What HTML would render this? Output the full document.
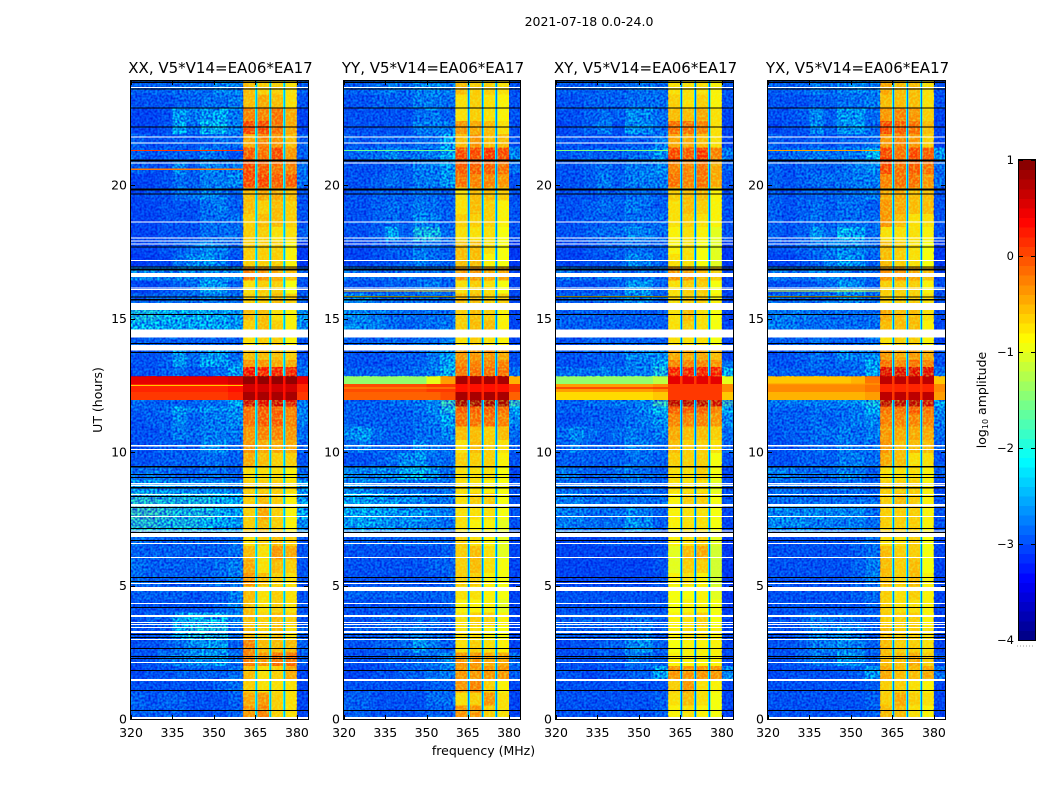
<!DOCTYPE html>
<html lang="en">
<head>
<meta charset="utf-8">
<title>2021-07-18 amplitude spectrograms</title>
<style>
html,body{margin:0;padding:0;background:#fff;width:1050px;height:800px;overflow:hidden}
svg{display:block}
text{font-family:"DejaVu Sans","Liberation Sans",sans-serif;fill:#000}
</style>
</head>
<body>
<svg id="chart" xmlns="http://www.w3.org/2000/svg" width="1050" height="800" viewBox="0 0 1050 800">
<defs>
<filter id="speckle-blue" x="0" y="0" width="1" height="1" color-interpolation-filters="sRGB">
<feTurbulence type="fractalNoise" baseFrequency="0.45" numOctaves="1" seed="4"/>
<feColorMatrix type="matrix" values="0 0 0 0 0  0 0 0 0 0.08  0 0 0 0 0.86  2 0 0 0 -0.62"/>
</filter>
<filter id="speckle-yellow" x="0" y="0" width="1" height="1" color-interpolation-filters="sRGB">
<feTurbulence type="fractalNoise" baseFrequency="0.45" numOctaves="1" seed="9"/>
<feColorMatrix type="matrix" values="0 0 0 0 0.85  0 0 0 0 1  0 0 0 0 0.24  1.5 0 0 0 -0.6"/>
</filter>
</defs>
<rect width="1050" height="800" fill="#fff"/>
<text x="589" y="26" font-size="12.5" text-anchor="middle">2021-07-18 0.0-24.0</text>
<text x="483.5" y="755" font-size="12.5" text-anchor="middle">frequency (MHz)</text>
<text transform="translate(102,400) rotate(-90)" font-size="12.5" text-anchor="middle">UT (hours)</text>
<text transform="translate(986,400) rotate(-90)" font-size="12.5" text-anchor="middle">log<tspan font-size="8" dy="2">10</tspan><tspan dy="-2"> amplitude</tspan></text>
<g id="plots"></g>
<g id="cbar"></g>
</svg>
<script>
// Chart data. Log10 amplitudes are stored in tenths, hours in UT, frequencies in MHz.
const panelTitles = ["XX, V5*V14=EA06*EA17","YY, V5*V14=EA06*EA17","XY, V5*V14=EA06*EA17","YX, V5*V14=EA06*EA17"];
const freqTicks = [320,335,350,365,380];
const hourTicks = [0,5,10,15,20];
const colorTicks = [-4,-3,-2,-1,0,1];
const rowEdges = [24,23.5,23,22.5,22,21.5,21,20.5,20,19.5,19,18.5,18,17.5,17,16.5,16,15.5,15,14.5,14,13.5,13.25,12.9,12.6,12.3,12,11.75,11.5,11,10.5,10,9.5,9,8.5,8,7.5,7,6.5,6,5.5,5,4.5,4,3.5,3,2.5,2,1.5,1,0.5,0];
const colStarts = [320,325,330,335,340,345,350,355,360.5,365.6,370.6,375.7,380];
const colEnds = [325,330,335,340,345,350,355,360.5,365.1,370.2,375.2,380,384];
const lineCenters = [365.35,370.4,375.45];
const lineHalo = [-20,-22,-22,-20];
const lineCore = [-25,-28,-29,-28];
const lineHot = [3,2,1,1];
const hotBandTop = 12.9;
const hotBandBottom = 12;
const whiteStart = [23.78,21.92,21.69,20.94,18.72,18.12,18,17.89,17.26,16.77,16.24,16.17,15.64,14.66,14.06,10.3,10.15,8.87,8.8,8.46,8.08,7.63,7.1,6.99,6.62,6.09,5.11,4.96,4.36,3.91,3.65,3.57,3.46,3.31,3.01,2.14,1.5,0.08];
const whiteEnd = [23.74,21.88,21.65,20.9,18.68,18.08,17.97,17.86,17.22,16.62,16.2,16.13,15.38,14.36,13.87,10.26,10.11,8.83,8.76,8.42,8,7.59,7.07,6.84,6.58,6.05,5.08,4.81,4.32,3.83,3.61,3.53,3.42,3.23,2.97,2.1,1.43,0];
const blackStart = [23.98,23.72,23,22.29,21.05,19.96,19.77,17.78,17.03,16.95,15.9,15.79,15.23,14.14,13.8,9.51,9.21,9.1,8.72,8.38,7.97,7.18,7.03,6.73,5.34,5.19,4.21,3.2,3.08,2.67,2.37,2.29,1.84,1.09,0.34];
const blackEnd = [23.93,23.68,22.97,22.26,20.98,19.89,19.74,17.74,16.99,16.88,15.86,15.75,15.19,14.1,13.76,9.47,9.17,9.06,8.68,8.35,7.93,7.14,6.99,6.69,5.3,5.15,4.17,3.16,3.04,2.63,2.33,2.26,1.8,1.05,0.3];
const spikeHours = [[21.39,20.68,12.55],[21.39,16.1,15.9,12.45],[21.39,15.9,12.45],[21.39,16.1,15.9,12.6]];
const spikeValues = [[1,-2,-6],[-16,-6,-8,-4],[-15,-7,4],[-4,-10,-6,-4]];

const xxValues = [
[-27,-27,-27,-26,-26,-26,-24,-25,-5,-6,-6,-7,-27],
[-28,-28,-28,-27,-27,-26,-26,-25,-5,-4,-5,-7,-28],
[-29,-29,-28,-23,-25,-23,-22,-25,-2,-2,-1,-4,-29],
[-29,-29,-28,-22,-26,-21,-21,-25,1,1,-1,-4,-29],
[-27,-28,-28,-27,-28,-27,-26,-26,-4,-2,-3,-5,-27],
[-27,-28,-27,-27,-27,-25,-26,-28,0,-1,1,-3,-27],
[-27,-28,-28,-24,-27,-24,-25,-25,1,0,-1,-2,-26],
[-29,-29,-28,-26,-27,-25,-25,-24,1,1,0,0,-26],
[-29,-28,-28,-26,-26,-24,-25,-27,-5,-4,-4,-5,-28],
[-29,-29,-28,-28,-28,-26,-25,-27,-5,-6,-5,-6,-28],
[-29,-29,-28,-28,-28,-26,-26,-26,-6,-5,-5,-6,-28],
[-29,-29,-28,-28,-28,-26,-26,-26,-6,-6,-7,-7,-27],
[-29,-29,-28,-27,-26,-24,-25,-27,-6,-6,-6,-8,-30],
[-30,-29,-29,-26,-24,-23,-25,-28,-6,-6,-6,-8,-30],
[-24,-24,-24,-24,-24,-24,-24,-24,-2,-3,-4,-5,-27],
[-29,-29,-28,-27,-26,-22,-23,-27,-7,-6,-6,-9,-28],
[-27,-27,-26,-26,-26,-25,-25,-26,-6,-6,-5,-6,-27],
[-20,-20,-21,-21,-21,-21,-22,-23,-5,-5,-7,-8,-23],
[-21,-21,-22,-22,-22,-22,-22,-23,-6,-5,-6,-8,-24],
[-27,-27,-27,-27,-27,-27,-27,-27,-7,-6,-6,-8,-28],
[-28,-28,-27,-23,-26,-23,-23,-26,-5,-5,-5,-6,-28],
[-28,-28,-27,-23,-26,-22,-23,-24,-3,-3,-4,-4,-27],
[-28,-28,-27,-26,-28,-27,-26,-22,4,3,3,3,-26],
[5,5,5,5,5,5,5,6,9,9,9,9,5],
[2,2,2,2,2,2,2,3,6,6,6,6,2],
[1,1,1,1,1,1,1,2,8,8,8,8,1],
[-26,-27,-27,-27,-27,-25,-26,-22,6,5,6,5,-25],
[-27,-27,-26,-22,-25,-24,-24,-23,-1,0,0,-2,-25],
[-28,-27,-27,-24,-27,-25,-25,-24,-1,0,0,-2,-25],
[-28,-28,-27,-25,-26,-25,-25,-25,-3,-2,-2,-3,-26],
[-28,-28,-27,-27,-27,-24,-24,-26,-3,-4,-4,-4,-27],
[-28,-28,-27,-27,-27,-26,-26,-27,-4,-5,-6,-6,-28],
[-26,-25,-26,-27,-27,-26,-26,-27,-7,-7,-7,-8,-26],
[-23,-23,-23,-24,-24,-24,-24,-25,-6,-6,-6,-7,-23],
[-19,-19,-20,-20,-20,-20,-21,-22,-6,-5,-6,-8,-23],
[-18,-18,-19,-20,-20,-20,-21,-22,-6,-4,-6,-8,-22],
[-19,-19,-20,-20,-20,-21,-22,-23,-6,-5,-6,-8,-24],
[-26,-27,-27,-27,-27,-27,-27,-26,-7,-6,-5,-6,-28],
[-27,-27,-27,-27,-27,-27,-27,-26,-5,-7,-3,-4,-28],
[-26,-27,-27,-27,-27,-27,-26,-25,-4,-7,-5,-6,-28],
[-26,-27,-27,-27,-27,-27,-26,-25,-3,-5,-6,-7,-28],
[-27,-27,-27,-27,-28,-27,-27,-25,-5,-7,-6,-7,-28],
[-28,-28,-28,-28,-28,-28,-27,-25,-5,-7,-6,-7,-28],
[-28,-27,-27,-22,-21,-21,-21,-25,-5,-6,-5,-6,-28],
[-28,-28,-27,-22,-20,-20,-20,-26,-5,-6,-5,-7,-27],
[-28,-28,-27,-26,-24,-23,-23,-27,-2,-5,-5,-5,-27],
[-28,-28,-26,-25,-24,-23,-23,-26,-2,-3,-1,-1,-27],
[-29,-28,-28,-27,-27,-27,-27,-26,-5,-7,-6,-4,-29],
[-28,-28,-28,-28,-28,-28,-27,-26,-6,-7,-7,-7,-29],
[-27,-28,-27,-27,-28,-28,-28,-27,-4,-3,-6,-7,-29],
[-27,-27,-27,-27,-28,-28,-28,-27,-3,-2,-6,-7,-29]
];
const yyValues = [
[-27,-27,-26,-25,-26,-24,-24,-25,-5,-6,-6,-7,-28],
[-28,-28,-27,-27,-27,-25,-25,-26,-7,-6,-7,-8,-28],
[-28,-28,-28,-28,-28,-26,-25,-27,-7,-6,-7,-8,-28],
[-28,-28,-28,-28,-28,-25,-25,-25,-3,-4,-5,-7,-28],
[-27,-28,-27,-27,-27,-26,-26,-22,-5,-3,-5,-5,-28],
[-27,-26,-26,-24,-26,-25,-25,-22,1,1,2,1,-24],
[-28,-28,-28,-27,-27,-25,-25,-23,0,0,0,-1,-26],
[-28,-28,-27,-26,-27,-25,-25,-23,-1,-2,-2,-3,-28],
[-28,-28,-27,-27,-27,-26,-26,-27,-7,-5,-5,-6,-28],
[-28,-28,-27,-26,-27,-25,-26,-27,-7,-5,-6,-8,-28],
[-28,-28,-27,-26,-27,-24,-25,-27,-6,-6,-6,-8,-28],
[-28,-28,-27,-22,-27,-20,-20,-26,-7,-7,-7,-9,-28],
[-29,-29,-28,-27,-27,-25,-26,-27,-5,-5,-7,-9,-30],
[-29,-29,-28,-28,-27,-25,-26,-27,-5,-5,-8,-9,-30],
[-26,-26,-26,-26,-26,-26,-26,-26,-3,-3,-4,-4,-29],
[-28,-28,-28,-27,-27,-26,-25,-27,-7,-6,-7,-9,-29],
[-24,-24,-26,-26,-26,-26,-26,-26,-5,-5,-6,-6,-29],
[-24,-24,-25,-26,-26,-26,-26,-26,-6,-5,-6,-8,-29],
[-24,-24,-25,-26,-27,-26,-26,-25,-6,-5,-5,-8,-29],
[-27,-27,-27,-26,-27,-26,-26,-25,-7,-6,-7,-8,-29],
[-28,-28,-28,-27,-27,-27,-25,-23,-3,-3,-3,-4,-28],
[-28,-28,-28,-28,-27,-27,-25,-22,-2,-2,-2,-2,-28],
[-27,-27,-27,-27,-27,-26,-25,-21,-1,-1,-1,-1,-26],
[-14,-14,-14,-14,-14,-14,-10,-4,8,8,8,8,-5],
[0,0,0,0,0,0,1,1,3,3,3,3,1],
[-1,-1,-1,-1,-1,-1,-1,0,8,8,8,8,-1],
[-27,-27,-27,-26,-26,-25,-24,-18,8,8,8,8,-18],
[-27,-27,-27,-27,-27,-26,-24,-20,0,0,0,-1,-22],
[-27,-27,-27,-27,-27,-26,-25,-22,-1,-1,-1,-2,-24],
[-24,-23,-26,-27,-27,-26,-26,-24,-5,-5,-6,-5,-26],
[-26,-25,-27,-27,-27,-24,-25,-26,-7,-5,-6,-7,-27],
[-28,-28,-27,-26,-24,-23,-26,-26,-6,-6,-6,-8,-28],
[-24,-24,-24,-24,-22,-21,-23,-26,-7,-7,-7,-9,-29],
[-24,-24,-25,-26,-26,-26,-26,-26,-7,-7,-8,-9,-28],
[-22,-22,-23,-23,-24,-24,-25,-25,-7,-6,-6,-9,-28],
[-22,-22,-22,-23,-23,-23,-24,-25,-7,-7,-7,-9,-28],
[-23,-22,-23,-24,-24,-24,-25,-26,-7,-8,-8,-10,-28],
[-27,-27,-27,-27,-27,-27,-27,-27,-6,-7,-8,-10,-29],
[-28,-28,-28,-28,-28,-28,-28,-27,-6,-5,-7,-10,-29],
[-28,-28,-28,-28,-28,-28,-27,-27,-6,-5,-7,-9,-29],
[-28,-28,-28,-28,-28,-28,-28,-27,-6,-6,-8,-9,-29],
[-27,-27,-27,-27,-27,-27,-27,-27,-7,-7,-8,-9,-29],
[-28,-28,-28,-28,-28,-28,-28,-27,-8,-8,-8,-10,-29],
[-28,-28,-27,-27,-27,-26,-26,-27,-7,-6,-6,-8,-29],
[-27,-27,-27,-26,-26,-25,-26,-27,-7,-7,-8,-9,-29],
[-28,-28,-27,-27,-26,-23,-25,-27,-7,-6,-7,-8,-29],
[-28,-28,-28,-27,-27,-26,-26,-24,-3,-3,-4,-4,-26],
[-29,-29,-28,-28,-27,-27,-26,-25,-3,-3,-3,-3,-27],
[-28,-28,-28,-28,-28,-28,-27,-27,-3,-2,-6,-8,-29],
[-27,-27,-28,-28,-28,-28,-26,-26,-7,-6,-3,-7,-29],
[-27,-27,-28,-28,-28,-28,-27,-27,-3,-3,-6,-7,-29]
];
const xyValues = [
[-27,-27,-27,-26,-27,-26,-25,-26,-7,-7,-7,-8,-28],
[-28,-28,-27,-27,-27,-26,-26,-26,-6,-7,-6,-8,-28],
[-28,-28,-27,-26,-27,-24,-24,-26,-5,-5,-4,-7,-29],
[-29,-28,-27,-25,-28,-23,-24,-26,-1,-1,-2,-7,-29],
[-28,-28,-28,-28,-28,-27,-27,-25,-4,-4,-5,-7,-29],
[-28,-27,-27,-27,-27,-26,-26,-23,1,0,2,-2,-25],
[-28,-28,-27,-26,-27,-25,-25,-24,-2,-2,-1,-4,-27],
[-28,-28,-27,-25,-27,-25,-25,-25,-1,-2,-1,-4,-28],
[-28,-28,-28,-27,-27,-26,-26,-27,-6,-5,-5,-8,-28],
[-28,-28,-27,-26,-27,-25,-26,-27,-7,-5,-6,-8,-28],
[-28,-28,-27,-27,-27,-26,-26,-26,-7,-6,-7,-8,-28],
[-28,-28,-27,-26,-26,-24,-25,-26,-8,-7,-8,-10,-28],
[-29,-29,-28,-27,-27,-26,-26,-27,-8,-7,-9,-10,-30],
[-29,-29,-28,-28,-27,-24,-25,-27,-7,-7,-9,-10,-30],
[-25,-26,-26,-26,-26,-26,-26,-26,-3,-3,-5,-6,-29],
[-28,-28,-28,-28,-27,-23,-23,-27,-7,-6,-6,-9,-29],
[-27,-27,-27,-26,-26,-24,-24,-27,-7,-6,-6,-8,-29],
[-27,-27,-27,-27,-27,-27,-27,-27,-7,-5,-7,-9,-29],
[-27,-27,-27,-27,-27,-27,-27,-27,-7,-6,-7,-9,-29],
[-28,-28,-27,-27,-27,-27,-27,-27,-7,-7,-7,-9,-29],
[-28,-28,-27,-27,-27,-24,-24,-24,-4,-4,-4,-5,-29],
[-28,-28,-28,-27,-27,-25,-25,-22,-2,-2,-2,-3,-26],
[-26,-26,-26,-25,-26,-25,-25,-20,3,3,3,3,-21],
[-14,-14,-14,-14,-14,-14,-14,-12,5,5,5,5,-10],
[-4,-4,-4,-4,-4,-4,-4,-3,1,1,1,1,-3],
[-7,-7,-7,-7,-7,-7,-7,-6,1,1,1,1,-6],
[-27,-27,-26,-26,-25,-25,-24,-18,7,7,7,6,-18],
[-27,-27,-27,-27,-27,-26,-24,-21,0,0,0,-2,-22],
[-28,-28,-27,-27,-27,-26,-25,-23,-2,-2,-2,-3,-24],
[-26,-24,-26,-27,-26,-25,-26,-25,-4,-5,-5,-6,-26],
[-27,-25,-27,-27,-27,-25,-25,-26,-5,-6,-6,-7,-27],
[-27,-27,-27,-27,-27,-26,-26,-27,-6,-6,-6,-9,-28],
[-25,-26,-27,-27,-26,-25,-26,-27,-7,-7,-6,-9,-29],
[-26,-26,-26,-27,-27,-26,-26,-27,-7,-7,-7,-10,-28],
[-25,-25,-26,-26,-26,-26,-26,-26,-8,-6,-6,-9,-28],
[-25,-25,-26,-26,-26,-24,-25,-27,-8,-7,-7,-9,-29],
[-25,-25,-26,-26,-26,-23,-24,-27,-8,-7,-7,-9,-29],
[-29,-29,-29,-28,-28,-28,-28,-28,-8,-7,-6,-10,-30],
[-29,-29,-29,-29,-29,-29,-29,-28,-10,-5,-4,-11,-30],
[-29,-29,-29,-29,-29,-29,-29,-28,-10,-6,-6,-11,-30],
[-29,-29,-29,-29,-29,-29,-29,-28,-8,-7,-8,-11,-30],
[-28,-28,-28,-28,-28,-28,-28,-28,-9,-9,-8,-10,-30],
[-28,-28,-28,-28,-28,-28,-28,-28,-9,-8,-8,-9,-30],
[-27,-27,-27,-27,-27,-26,-26,-27,-8,-7,-6,-9,-29],
[-27,-27,-27,-27,-27,-26,-25,-27,-8,-7,-7,-8,-29],
[-29,-28,-28,-27,-27,-24,-23,-27,-9,-8,-8,-8,-29],
[-28,-28,-28,-27,-28,-25,-26,-27,-8,-8,-8,-8,-29],
[-28,-28,-29,-28,-28,-27,-27,-22,-3,-3,-3,-3,-24],
[-28,-28,-28,-28,-28,-28,-28,-28,-6,-3,-7,-8,-29],
[-28,-28,-28,-28,-28,-28,-28,-27,-7,-5,-7,-9,-29],
[-28,-28,-28,-28,-28,-28,-28,-27,-8,-7,-8,-9,-29]
];
const yxValues = [
[-27,-27,-27,-25,-26,-25,-24,-25,-4,-5,-5,-7,-28],
[-28,-28,-28,-27,-27,-26,-26,-25,-5,-5,-5,-7,-28],
[-28,-28,-27,-24,-27,-23,-23,-26,-3,-2,-3,-6,-29],
[-29,-28,-28,-24,-27,-23,-23,-26,1,0,-1,-5,-29],
[-27,-28,-28,-27,-28,-27,-27,-26,-3,-2,-3,-6,-29],
[-27,-26,-26,-25,-26,-25,-25,-21,1,-1,1,0,-23],
[-27,-28,-27,-27,-27,-26,-25,-24,1,-1,0,-1,-26],
[-27,-28,-27,-26,-26,-26,-25,-25,-2,-1,-1,-3,-26],
[-27,-28,-27,-27,-27,-26,-26,-25,-4,-4,-5,-5,-28],
[-27,-28,-27,-26,-27,-26,-26,-27,-3,-4,-5,-5,-28],
[-27,-28,-27,-26,-27,-26,-26,-26,-3,-5,-7,-7,-28],
[-27,-28,-27,-23,-26,-21,-22,-26,-7,-7,-7,-8,-28],
[-28,-28,-27,-26,-25,-24,-24,-26,-5,-6,-7,-9,-30],
[-29,-29,-28,-27,-25,-23,-24,-27,-5,-6,-7,-9,-30],
[-25,-26,-26,-25,-25,-25,-25,-26,-3,-3,-4,-5,-29],
[-28,-28,-28,-27,-26,-23,-24,-27,-6,-6,-6,-8,-28],
[-26,-26,-26,-26,-25,-24,-24,-26,-6,-6,-6,-7,-28],
[-25,-25,-25,-26,-26,-26,-26,-26,-4,-5,-5,-7,-28],
[-25,-25,-26,-26,-26,-26,-26,-26,-5,-5,-5,-8,-29],
[-27,-27,-27,-26,-27,-27,-27,-26,-7,-6,-6,-8,-29],
[-28,-28,-27,-26,-27,-24,-25,-24,-3,-4,-3,-4,-28],
[-28,-28,-27,-26,-27,-26,-26,-22,-1,-2,-1,-2,-28],
[-27,-27,-27,-27,-27,-27,-26,-22,5,5,5,5,-26],
[-6,-6,-6,-6,-6,-6,-5,-2,7,7,7,7,-6],
[-3,-3,-3,-3,-3,-3,-3,-2,2,2,2,2,-3],
[-5,-5,-5,-5,-5,-5,-5,-4,7,7,7,7,-4],
[-25,-25,-25,-25,-25,-24,-23,-20,7,7,7,6,-22],
[-27,-27,-27,-26,-26,-26,-25,-22,-1,-1,0,-1,-24],
[-27,-27,-27,-26,-27,-26,-25,-24,-2,-2,-2,-2,-25],
[-28,-27,-27,-26,-26,-25,-26,-25,-3,-4,-4,-4,-26],
[-28,-28,-27,-26,-27,-25,-26,-26,-3,-5,-5,-5,-27],
[-28,-28,-27,-27,-27,-25,-25,-26,-4,-5,-7,-7,-28],
[-25,-25,-26,-26,-26,-24,-25,-27,-7,-7,-7,-8,-27],
[-26,-26,-26,-27,-27,-26,-26,-27,-6,-6,-6,-8,-29],
[-26,-26,-26,-26,-26,-26,-26,-26,-6,-5,-6,-8,-28],
[-24,-24,-24,-24,-24,-24,-24,-26,-6,-6,-6,-8,-28],
[-24,-24,-24,-25,-25,-25,-25,-26,-6,-6,-6,-8,-28],
[-28,-28,-28,-28,-28,-28,-27,-26,-7,-7,-6,-9,-29],
[-28,-28,-28,-28,-28,-28,-27,-26,-5,-6,-6,-9,-29],
[-28,-28,-28,-28,-28,-28,-27,-25,-5,-6,-5,-9,-29],
[-28,-28,-28,-28,-28,-28,-27,-25,-5,-6,-5,-8,-29],
[-28,-28,-28,-28,-28,-28,-27,-26,-6,-7,-6,-8,-29],
[-28,-28,-28,-28,-28,-28,-28,-27,-6,-7,-7,-8,-29],
[-28,-28,-27,-25,-26,-26,-26,-27,-6,-6,-6,-8,-29],
[-28,-28,-27,-24,-25,-23,-25,-27,-5,-6,-6,-7,-29],
[-28,-28,-27,-25,-25,-24,-25,-27,-5,-6,-6,-7,-29],
[-28,-28,-27,-25,-26,-23,-24,-27,-5,-5,-4,-6,-28],
[-29,-28,-28,-28,-28,-28,-27,-23,-4,-5,-5,-4,-26],
[-28,-28,-28,-28,-28,-28,-28,-27,-6,-6,-7,-8,-29],
[-28,-28,-28,-28,-28,-28,-28,-27,-6,-4,-6,-7,-29],
[-28,-28,-28,-28,-28,-28,-28,-27,-5,-5,-7,-8,-29]
];
const panelValues = [xxValues, yyValues, xyValues, yxValues];
const panelIds = ["xx","yy","xy","yx"];

const SVGNS = "http://www.w3.org/2000/svg";
const panelLeft = [131,344,556,768];
const panelWidth = [177,176,177,177];
const plotTop = 81, plotBottom = 719;
const cbX = 1019, cbW = 16, cbTop = 160, cbBottom = 640;

function scaleX(panel, mhz){ return panelLeft[panel] + (mhz - 320) / 64 * panelWidth[panel]; }
function scaleY(hour){ return plotBottom - hour / 24 * (plotBottom - plotTop); }
function scaleTickY(hour){ return plotBottom - hour * 26.7; }
function scaleC(logAmp){ return cbBottom - (logAmp + 4) / 5 * (cbBottom - cbTop); }
function clamp01(v){ return Math.max(0, Math.min(1, v)); }
function jet(logAmp){
  const t = clamp01((logAmp + 4) / 5);
  const r = clamp01(1.5 - Math.abs(4 * t - 3));
  const g = clamp01(1.5 - Math.abs(4 * t - 2));
  const b = clamp01(1.5 - Math.abs(4 * t - 1));
  return "rgb(" + Math.round(r * 255) + "," + Math.round(g * 255) + "," + Math.round(b * 255) + ")";
}
function shape(parent, tag, props){
  const el = document.createElementNS(SVGNS, tag);
  for (const k in props) el.setAttribute(k, props[k]);
  parent.appendChild(el);
  return el;
}
function band(parent, x, w, h0, h1, fill){
  const top = scaleY(h0);
  const height = Math.max(1, scaleY(h1) - top);
  return shape(parent, "rect", {x: x, y: top, width: w, height: height, fill: fill, "shape-rendering": "crispEdges"});
}

const plots = document.getElementById("plots");
panelTitles.forEach(function(title, p){
  const g = shape(plots, "g", {});
  
  
  const left = panelLeft[p];
  const plotW = panelWidth[p];

  // heatmap cells
  panelValues[p].forEach(function(row, r){
    row.forEach(function(v, c){
      const x0 = scaleX(p, colStarts[c]);
      const x1 = scaleX(p, colEnds[c]);
      const cell = band(g, x0, x1 - x0, rowEdges[r], rowEdges[r + 1], jet(v / 10));
      
      
    });
  });

  // decorative visibility noise over the weak channels and the strong sub-bands
  const lowX = scaleX(p, 320);
  const lowW = scaleX(p, 360.5) - lowX;
  const outX = scaleX(p, 380);
  const outW = left + plotW - outX;
  [[lowX, lowW, 24, hotBandTop], [lowX, lowW, hotBandBottom, 0], [outX, outW, 24, hotBandTop], [outX, outW, hotBandBottom, 0]].forEach(function(z){
    const noise = shape(g, "rect", {x: z[0], y: scaleY(z[2]), width: z[1], height: scaleY(z[3]) - scaleY(z[2]), filter: "url(#speckle-blue)"});
    
    
  });
  [[24, hotBandTop], [hotBandBottom, 0]].forEach(function(z){
    const noise = shape(g, "rect", {x: lowX + lowW, y: scaleY(z[0]), width: outX - lowX - lowW, height: scaleY(z[1]) - scaleY(z[0]), filter: "url(#speckle-yellow)"});
    
    
  });

  // channel-gap lines between the strong sub-bands
  lineCenters.forEach(function(mhz){
    const halo = band(g, scaleX(p, mhz) - 1.25, 2.5, 24, 0, jet(lineHalo[p] / 10));
    
    
    const core = band(g, scaleX(p, mhz) - 0.5, 1, 24, 0, jet(lineCore[p] / 10));
    
    
    const hot = band(g, scaleX(p, mhz) - 1.25, 2.5, hotBandTop, hotBandBottom, jet(lineHot[p] / 10));
    
    
  });

  // narrow interference spikes below the strong sub-bands
  spikeHours[p].forEach(function(hour, i){
    const spike = band(g, scaleX(p, 320), scaleX(p, 360.5) - scaleX(p, 320), hour + 0.02, hour - 0.02, jet(spikeValues[p][i] / 10));
    
    
  });

  // flagged (no data) intervals and black separator lines
  whiteStart.forEach(function(h0, i){
    const gap = band(g, left, plotW, h0, whiteEnd[i], "#ffffff");
    
    
  });
  blackStart.forEach(function(h0, i){
    const line = band(g, left, plotW, h0, blackEnd[i], "#000000");
    
    
  });

  // frame
  const frame = shape(g, "rect", {x: left - 0.5, y: plotTop - 0.5, width: plotW + 1, height: plotBottom - plotTop + 1, fill: "none", stroke: "#000", "stroke-width": 1, "shape-rendering": "crispEdges"});
  
  

  // title
  const t = shape(g, "text", {x: left + plotW / 2 + 1, y: 73, "font-size": 15, "text-anchor": "middle"});
  t.textContent = title;
  
  

  // frequency ticks
  freqTicks.forEach(function(f){
    const x = Math.round(scaleX(p, f)) + 0.5;
    const t1 = shape(g, "path", {d: "M" + x + " " + plotBottom + "v-4M" + x + " " + plotTop + "v4", stroke: "#000", "stroke-width": 1, fill: "none"});
    
    
    const lab = shape(g, "text", {x: scaleX(p, f), y: 737, "font-size": 12.5, "text-anchor": "middle"});
    lab.textContent = String(f);
    
    
  });

  // hour ticks
  hourTicks.forEach(function(h){
    const y = Math.round(scaleTickY(h)) + 0.5;
    const t2 = shape(g, "path", {d: "M" + left + " " + y + "h4M" + (left + plotW) + " " + y + "h-4", stroke: "#000", "stroke-width": 1, fill: "none"});
    
    
    const lab = shape(g, "text", {x: left - 4, y: scaleTickY(h) + 4.5, "font-size": 12.5, "text-anchor": "end"});
    lab.textContent = String(h);
    
    
  });
});

// colour bar
const cbar = document.getElementById("cbar");
for (let v = -40; v < 10; v++) {
  const top = scaleC((v + 1) / 10);
  const swatch = shape(cbar, "rect", {x: cbX, y: top, width: cbW, height: scaleC(v / 10) - top + 0.5, fill: jet((v + 0.5) / 10), "shape-rendering": "crispEdges"});
  
  
}
const cbFrame = shape(cbar, "rect", {x: cbX - 0.5, y: cbTop - 0.5, width: cbW + 1, height: cbBottom - cbTop + 1, fill: "none", stroke: "#000", "stroke-width": 1, "shape-rendering": "crispEdges"});


colorTicks.forEach(function(v){
  const y = Math.round(scaleC(v)) + 0.5;
  const tick = shape(cbar, "path", {d: "M" + cbX + " " + y + "h4M" + (cbX + cbW) + " " + y + "h-4", stroke: "#000", "stroke-width": 1, fill: "none"});
  
  
  const lab = shape(cbar, "text", {x: cbX - 5, y: scaleC(v) + 4, "font-size": 11.5, "text-anchor": "end"});
  lab.textContent = v < 0 ? "\u2212" + Math.abs(v) : String(v);
  
  
});
const dots = shape(cbar, "line", {x1: cbX - 2, y1: 646, x2: cbX + cbW, y2: 646, stroke: "#999", "stroke-width": 1, "stroke-dasharray": "1 2"});


</script>
</body>
</html>
